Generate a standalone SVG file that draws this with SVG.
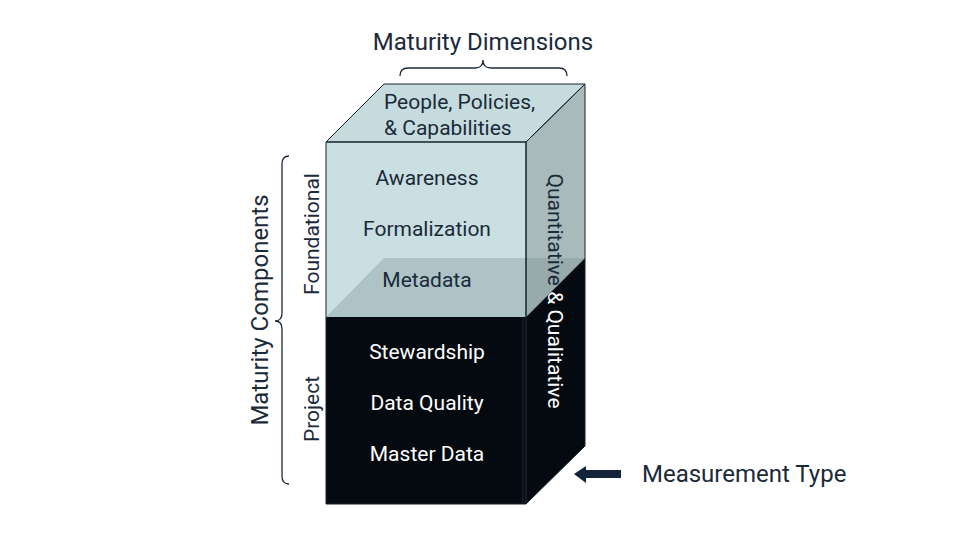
<svg xmlns="http://www.w3.org/2000/svg" width="960" height="540" viewBox="0 0 960 540">
<style>
text{font-family:Roboto,"Liberation Sans",sans-serif;fill:#1b2a3a}
.lbl{font-size:21px;text-anchor:middle}
.w{fill:#ffffff}
.big{font-size:24px}
.brace{fill:none;stroke:#1b2a3a;stroke-width:1.3}
.edge{fill:none;stroke:#14222f;stroke-width:1;stroke-linejoin:round}
</style>
<defs>
<clipPath id="clipLight"><polygon points="520,80 600,80 600,243 526,317 520,317"/></clipPath>
<clipPath id="clipDark"><polygon points="526,317 600,243 600,520 520,520 520,317"/></clipPath>
</defs>
<rect width="960" height="540" fill="#ffffff"/>
<g id="cube">
<polygon points="326,142 384,84 585,84 526,142" fill="#c6dbdd"/>
<rect x="326" y="142" width="200" height="175" fill="#c9dfe1"/>
<polygon points="326,317 384,258 526,258 526,317" fill="#adc3c6"/>
<polygon points="526,142 585,84 585,258 526,258" fill="#a9babb"/>
<polygon points="526,258 585,258 526,317" fill="#97aaac"/>
<rect x="326" y="317" width="200" height="187" fill="#050a10"/>
<polygon points="526,317 585,258 585,446 526,504" fill="#050a10"/>
<line x1="523" y1="318" x2="523" y2="504" stroke="#1e2a35" stroke-width="1"/>
<polygon class="edge" points="326,142 384,84 585,84 526,142"/>
<rect class="edge" x="326" y="142" width="200" height="362"/>
<polygon class="edge" points="526,142 585,84 585,446 526,504"/>
</g>
<g id="top-label">
<text x="384" y="109" style="font-size:21px">People, Policies,</text>
<text x="384" y="135" style="font-size:21px">&amp; Capabilities</text>
</g>
<g id="foundational-items">
<text class="lbl" x="427" y="185">Awareness</text>
<text class="lbl" x="427" y="236">Formalization</text>
<text class="lbl" x="427" y="287">Metadata</text>
</g>
<g id="project-items">
<text class="lbl w" x="427" y="359">Stewardship</text>
<text class="lbl w" x="427" y="410">Data Quality</text>
<text class="lbl w" x="427" y="461">Master Data</text>
</g>
<g id="side-label">
<g clip-path="url(#clipLight)"><text class="lbl" transform="translate(548,291) rotate(90)">Quantitative &amp; Qualitative</text></g>
<g clip-path="url(#clipDark)"><text class="lbl w" transform="translate(548,291) rotate(90)">Quantitative &amp; Qualitative</text></g>
</g>
<g id="dimensions">
<text class="big" x="483" y="50" text-anchor="middle">Maturity Dimensions</text>
<path class="brace" d="M400,76 Q400,68 408,68 L475,68 Q483,68 483,60 Q483,68 491,68 L559,68 Q567,68 567,76"/>
</g>
<g id="components">
<text class="big" text-anchor="middle" transform="translate(268,310) rotate(-90)">Maturity Components</text>
<text class="lbl" transform="translate(319,234) rotate(-90)">Foundational</text>
<text class="lbl" transform="translate(319,409) rotate(-90)">Project</text>
<path class="brace" d="M289,156 Q282,156 282,164 L282,313 Q282,321 275,321 Q282,321 282,329 L282,476 Q282,484 289,484"/>
</g>
<g id="measurement">
<polygon points="574,474 586,466 586,470 621,470 621,478 586,478 586,483" fill="#13233a"/>
<text class="big" x="642" y="482">Measurement Type</text>
</g>
</svg>
